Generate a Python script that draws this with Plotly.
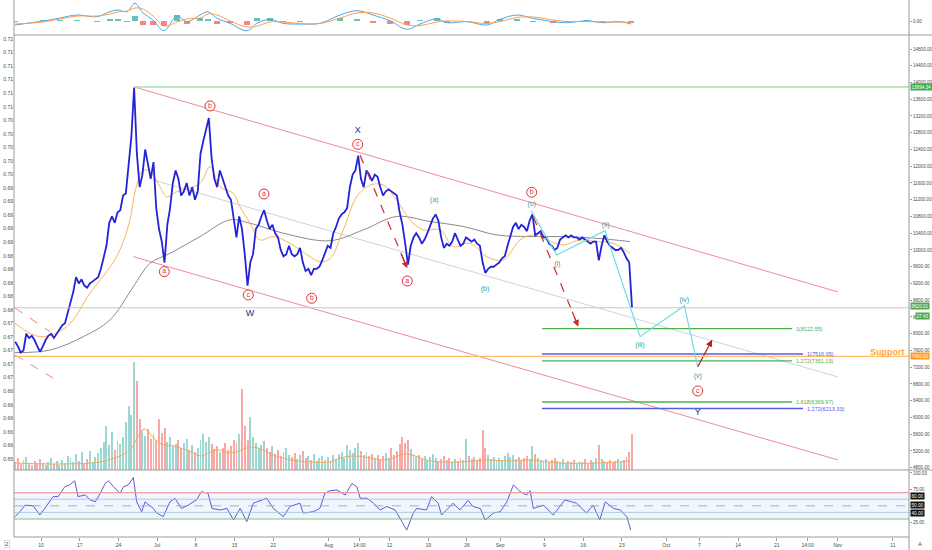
import numpy as np
import pandas as pd
import plotly.graph_objects as go

# ---------------------------------------------------------------------------
# BTCUSD Jun-Sep 2019, elliott-wave markup (W-X-Y), MACD on top, RSI below.
# Times are kept as day offsets from T0 where the data are sparse.
# ---------------------------------------------------------------------------

T0 = pd.Timestamp("2019-06-10")


def at(days):
    return T0 + pd.to_timedelta(np.asarray(days, dtype=float), unit="D")


X_START, X_END = -4.88, 156.9

# 12h closes and volumes from 2019-06-05 08:00
PRICE_START = "2019-06-05 08:00"
PRICE = [
    7810, 7700, 7550, 7600, 8000, 7900, 7950, 7850, 7700, 7570,
    7700, 7850, 7950, 8000, 7900, 8000, 8100, 8200, 8250, 8500,
    8700, 9000, 9350, 9200, 9300, 9150, 9100, 9200, 9250, 9300,
    9350, 9550, 9800, 10100, 10650, 10800, 10650, 10900, 10950, 11300,
    11350, 12100, 12700, 13880, 12300, 11500, 11800, 12400, 12000, 11700,
    12100, 11000, 10500, 10200, 9700, 10600, 11000, 11600, 11900, 11700,
    11300, 11400, 11600, 11300, 11500, 11200, 11400, 12300, 12600, 12900,
    13150, 12200, 11700, 11500, 11900, 11700, 11500, 11300, 11200, 10700,
    10300, 10800, 10500, 9900, 9150, 9700, 9900, 10500, 10600, 10800,
    10950, 10700, 10500, 10600, 10400, 10300, 10000, 9850, 9900, 10100,
    9900, 9850, 9900, 10050, 9700, 9500, 9550, 9400, 9550, 9550,
    9600, 9750, 9950, 10100, 10050, 10400, 10550, 10750, 10850, 10900,
    11000, 11500, 11800, 11900, 12250, 11700, 11500, 11900, 11800, 11650,
    11800, 11750, 11500, 11300, 11400, 11450, 11400, 11350, 11300, 10900,
    10600, 10150, 9650, 10100, 10300, 10400, 10300, 10150, 10250, 10400,
    10600, 10750, 10850, 10700, 10300, 10050, 10150, 10100, 10200, 10400,
    10250, 10100, 10150, 10300, 10250, 10200, 10250, 10150, 10100, 9700,
    9450, 9550, 9600, 9600, 9650, 9700, 9800, 9850, 10100, 10300,
    10550, 10650, 10500, 10600, 10550, 10450, 10700, 10850, 10350, 10400,
    10450, 10300, 10300, 10150, 10100, 10000, 10050, 10250, 10300, 10350,
    10300, 10350, 10300, 10300, 10250, 10300, 10250, 10200, 10150, 10200,
    10200, 9750, 10100, 10350, 10200, 10100, 10050, 10000, 10000, 10050,
    9950, 9800, 9700, 8620,
]
VOLUME = [
    8, 12, 6, 10, 13, 7, 5, 9, 6, 11,
    7, 5, 8, 12, 6, 9, 5, 10, 7, 14,
    12, 8, 16, 9, 18, 7, 11, 19, 8, 13,
    17, 22, 28, 44, 25, 38, 20, 29, 26, 33,
    48, 64, 55, 108, 89, 51, 40, 34, 41, 31,
    36, 30, 51, 37, 42, 28, 33, 24, 26, 30,
    22, 27, 31, 20, 25, 18, 22, 30, 36, 28,
    33, 26, 21, 24, 18, 22, 27, 20, 24, 30,
    28, 36, 81, 44, 30, 53, 33, 27, 22, 25,
    29, 22, 18, 24, 16, 20, 14, 18, 22, 15,
    13, 17, 11, 15, 19, 12, 14, 10, 16, 9,
    12, 14, 10, 13, 9, 15, 11, 16, 18, 12,
    25, 20, 17, 22, 27, 19, 15, 18, 14, 16,
    12, 15, 11, 14, 17, 12, 22, 15, 19, 26,
    33, 27, 30, 21, 16, 13, 15, 11, 14, 10,
    13, 16, 12, 9, 11, 14, 10, 12, 8, 11,
    9, 12, 10, 31, 14, 11, 13, 10, 12, 40,
    22, 15, 11, 13, 9, 12, 10, 14, 17, 13,
    15, 11, 13, 10, 12, 14, 11, 24, 16, 12,
    10, 9, 11, 8, 10, 12, 9, 8, 11, 7,
    9, 8, 10, 7, 9, 8, 11, 7, 10, 8,
    12, 25, 11, 9, 8, 10, 7, 9, 11, 8,
    10, 13, 18, 36,
]

MA_FAST_DAY = [-4.7, -0.2, 4.65, 8.86, 13.68, 16.09, 16.99, 18.49, 20.01, 21.51,
               22.72, 24.53, 28.74, 30.55, 32.36, 34.76, 35.97, 37.78, 39.59, 41.99,
               45.01, 48.63, 50.43, 52.24, 54.65, 57.07, 59.47, 61.88, 64.30, 66.70,
               69.11, 72.13, 74.53, 77.55, 80.57, 83.57, 86.59, 88.99, 91.41, 94.41,
               97.43, 100.45, 103.45, 106.47]
MA_FAST = [8250, 7930, 8170, 8970, 9840, 10720, 11390, 11910, 11830, 11510,
           11270, 11390, 11590, 11990, 11510, 11350, 11030, 10640, 10240, 10320,
           10160, 9840, 9720, 9790, 10480, 11270, 11550, 11550, 11190, 10720,
           10480, 10480, 10080, 10160, 9840, 9760, 10240, 10360, 10240, 10120,
           10240, 10200, 10160, 9920]
MA_SLOW_DAY = [-4.7, 1.63, 7.65, 12.47, 16.68, 19.70, 23.32, 28.74, 34.16, 37.78,
               43.80, 52.24, 58.26, 64.30, 70.32, 76.34, 82.38, 88.39, 94.41, 100.45,
               106.47]
MA_SLOW = [7550, 7610, 7930, 8330, 9120, 9680, 9920, 10320, 10720, 10640,
           10400, 10220, 10480, 10800, 10680, 10560, 10360, 10320, 10320, 10280,
           10200]
VOL_MA_DAY = [-4.88, 3.43, 10.67, 14.28, 16.09, 18.62, 19.88, 21.69, 24.04, 27.12,
              28.92, 31.81, 34.35, 37.96, 39.77, 42.48, 45.19, 48.63, 52.24, 54.05,
              56.76, 59.47, 62.18, 65.80, 67.61, 70.32, 75.74, 80.26, 84.78, 88.39,
              93.82, 101.05, 106.47]
VOL_MA = [7, 6, 8, 14, 20, 41, 35, 26, 24, 18,
          14, 20, 17, 23, 21, 14, 10, 8, 8, 12,
          14, 12, 10, 16, 14, 9, 8, 10, 9, 10,
          7, 7, 9]

MACD_DAY = [-4.70, 0.36, 3.43, 6.51, 10.12, 12.47, 13.92, 15.55, 16.99, 18.44,
            20.25, 22.23, 24.58, 26.39, 28.74, 30.19, 31.82, 34.16, 37.24, 39.05,
            41.40, 43.75, 46.82, 50.43, 54.05, 57.12, 60.01, 63.09, 66.16, 68.51,
            71.58, 73.39, 77.01, 80.62, 82.97, 86.05, 88.94, 92.55, 95.08, 98.70,
            101.59, 104.66, 106.65]
MACD = [-4, 0, 3, 6, 4.3, 9.3, 11, 9.3, 17.7, 8,
        1, -9.7, 5, -0.7, 6, 9.3, 2.7, -2.3, -9.7, -2.3,
        1.7, -2.3, -3, -2.3, 6, 10.3, 6, 0.3, -8.3, -3,
        2.3, -1.7, -0.7, -4, 1.7, 6, 2.7, -0.7, -1.7, 0.3,
        -1.7, -0.7, -3]
MACD_SIGNAL = [-3, -1, 2, 5, 5, 7, 9, 10, 13, 12,
               5, -5, -1, 2, 3, 7, 6, 0, -6, -5,
               -1, -1, -2.5, -2.5, 3, 8, 8, 3, -4, -4.5,
               -1, 0, -0.5, -2.5, -0.5, 3.5, 4, 1, -0.5, -0.5,
               -1, -1, -1.5]

RSI_DAY = [-4.7, -3.8, -2.9, -1.4, -0.2, 1.0, 2.2, 3.1, 4.3, 5.2,
           6.1, 6.7, 8.0, 8.9, 9.8, 10.7, 11.6, 12.2, 13.1, 14.3,
           14.9, 15.8, 16.7, 17.3, 18.2, 18.8, 20.3, 20.9, 22.1, 23.3,
           24.2, 25.4, 26.6, 28.1, 29.0, 30.2, 30.9, 32.4, 33.6, 34.8,
           36.0, 37.2, 38.4, 40.8, 42.0, 43.8, 45.0, 46.8, 47.4, 49.2,
           50.4, 51.3, 52.2, 53.5, 55.0, 56.2, 57.1, 57.7, 58.9, 60.1,
           61.3, 62.5, 64.0, 64.9, 66.1, 67.3, 67.9, 69.7, 70.6, 71.8,
           72.4, 74.5, 75.7, 77.2, 78.1, 79.4, 80.3, 81.8, 83.0, 84.2,
           85.4, 86.6, 87.8, 88.4, 89.0, 90.8, 92.6, 94.7, 96.8, 98.6,
           99.8, 101.0, 102.0, 103.5, 104.7, 105.9, 106.6]
RSI = [33.5, 41, 51, 50, 36, 51, 64, 64, 79, 82,
       88, 64, 66.5, 59, 56, 69, 84, 88, 79, 69,
       79, 82, 93, 56, 41, 56, 46, 39, 33.5, 56,
       61.5, 46, 51, 59, 71.5, 69, 46, 43.7, 46, 28.5,
       46, 26, 54, 61.5, 46, 33.5, 49, 54, 39, 41,
       46, 69, 73, 74, 66.5, 84, 79, 61.5, 61.5, 54,
       43.7, 49, 43.7, 31, 13, 39, 46, 43.7, 64, 54,
       36, 54, 43.7, 58, 49, 46, 28.5, 39, 41, 56,
       82, 71.5, 66.5, 73, 46, 51, 36, 59, 54, 39,
       51, 28.5, 56, 46, 43.7, 33.5, 13]

# chart drawings
HIGH = 13894.34
HIGH_DAY = 16.81
LAST = 8620.01
SUPPORT = 7460.00
CH_TOP_DAY, CH_TOP = [16.81, 144.07], [13894, 8997]
CH_BOT_DAY, CH_BOT = [16.68, 144.07], [9840, 4985]
CH_MID_DAY, CH_MID = [20.25, 144.07], [11672, 6968]
OLD_CH_DAY = [[-4.70, 1.63], [-4.70, 2.17]]
OLD_CH = [[8615, 8049], [7493, 6943]]
DASH_DAY = [[57.66, 66.21], [88.99, 97.13]]
DASH = [[12269, 9563], [10795, 8168]]
PATH_DAY = [88.58, 93.22, 101.95, 108.28, 116.29, 118.71]
PATH = [10939, 9881, 10461, 7930, 8670, 7213]
UP_DAY, UP = [118.71, 121.30], [7213, 7851]

FIB_START = 90.56
FIB_GREEN_END = 135.76
FIB_GREEN = [("1", 8122.55), ("1.272", 7351.19), ("1.618", 6369.97)]
FIB_BLUE_END = 137.74
FIB_BLUE = [("1", 7516.05), ("1.272", 6213.33)]

CIRCLED = ["b", "a", "a", "c", "b", "c", "a", "b", "c"]
CIRCLED_DAY = [30.55, 40.31, 22.29, 37.47, 48.93, 57.25, 66.21, 88.70, 118.71]
CIRCLED_Y = [13439, 11337, 9482, 8926, 8847, 12524, 9260, 11378, 6633]
MINOR = ["(a)", "(b)", "(c)", "(i)", "(ii)", "(iii)", "(iv)", "(v)"]
MINOR_DAY = [71.10, 80.26, 88.70, 93.33, 102.08, 108.28, 116.29, 118.71]
MINOR_Y = [11194, 9069, 11091, 9666, 10590, 7724, 8806, 6991]
MAJOR = ["W", "X", "Y"]
MAJOR_DAY = [37.78, 57.25, 118.71]
MAJOR_Y = [8488, 12842, 6115]

X_TICKS = ["2019-06-10", "2019-06-17", "2019-06-24", "2019-07-01", "2019-07-08",
           "2019-07-15", "2019-07-22", "2019-08-01", "2019-08-06 14:00", "2019-08-12",
           "2019-08-19", "2019-08-26", "2019-09-01", "2019-09-09", "2019-09-16",
           "2019-09-23", "2019-10-01", "2019-10-07", "2019-10-14", "2019-10-21",
           "2019-10-26 14:00", "2019-11-01", "2019-11-11"]
X_LABELS = ["10", "17", "24", "Jul", "8", "15", "22", "Aug", "14:00", "12",
            "19", "26", "Sep", "9", "16", "23", "Oct", "7", "14", "21",
            "14:00", "Nov", "11"]
LEFT_LABELS = ["0.72"] + ["0.71"] * 5 + ["0.70"] * 5 + ["0.69"] * 5 + ["0.68"] * 5 \
    + ["0.67"] * 5 + ["0.66"] * 5 + ["0.65"]

FONT = "Liberation Sans, Arial, sans-serif"
AX_FONT = dict(family=FONT, size=5, color="#4a4a4a")
R_FONT = dict(family=FONT, size=4.6, color="#4a4a4a")
RED = "#E0303A"
TEAL = "#27A89A"
NAVY = "#1F2A8A"
GREEN = "#4CAF50"
BLUE = "#5A5AE6"

# panel split (paper fractions)
RSI_TOP = 0.1248
MAIN_TOP = 0.9348

fig = go.Figure()

# ---- main panel --------------------------------------------------------
fig.add_trace(go.Scatter(x=at(CH_TOP_DAY), y=CH_TOP, mode="lines",
                         line=dict(color="#F08C94", width=1)))
fig.add_trace(go.Scatter(x=at(CH_BOT_DAY), y=CH_BOT, mode="lines",
                         line=dict(color="#F08C94", width=1)))
fig.add_trace(go.Scatter(x=at(CH_MID_DAY), y=CH_MID, mode="lines",
                         line=dict(color="#CDD3DC", width=1)))
for d, p in zip(OLD_CH_DAY, OLD_CH):
    fig.add_trace(go.Scatter(x=at(d), y=p, mode="lines",
                             line=dict(color="#F07C86", width=1, dash="dash")))

fig.add_trace(go.Scatter(x=at(MA_SLOW_DAY), y=MA_SLOW, mode="lines",
                         line=dict(color="#8a8a8a", width=1, shape="spline")))
fig.add_trace(go.Scatter(x=at(MA_FAST_DAY), y=MA_FAST, mode="lines",
                         line=dict(color="#F6B65E", width=1, shape="spline")))

t_price = pd.date_range(PRICE_START, periods=len(PRICE), freq="12h")
fig.add_trace(go.Scatter(x=t_price, y=PRICE, mode="lines",
                         line=dict(color="#2323D8", width=1.8)))

fig.add_trace(go.Scatter(x=[at(HIGH_DAY), at(X_END)], y=[HIGH, HIGH], mode="lines",
                         line=dict(color="#A8DDB0", width=1.5)))

# fib extensions
for name, lvl in FIB_GREEN:
    fig.add_trace(go.Scatter(x=at([FIB_START, FIB_GREEN_END]), y=[lvl, lvl], mode="lines",
                             line=dict(color=GREEN, width=1.4)))
for name, lvl in FIB_BLUE:
    fig.add_trace(go.Scatter(x=at([FIB_START, FIB_BLUE_END]), y=[lvl, lvl], mode="lines",
                             line=dict(color=BLUE, width=1.4)))

# projected path and arrows
fig.add_trace(go.Scatter(x=at(PATH_DAY), y=PATH, mode="lines",
                         line=dict(color="#6ADCE6", width=1.2)))
for d, p in zip(DASH_DAY, DASH):
    fig.add_trace(go.Scatter(x=at(d), y=p, mode="lines",
                             line=dict(color="#C9302C", width=1.2, dash="dash")))
fig.add_trace(go.Scatter(x=at(UP_DAY), y=UP, mode="lines",
                         line=dict(color="#B71C1C", width=1.2)))

# wave labels
fig.add_trace(go.Scatter(x=at(CIRCLED_DAY), y=CIRCLED_Y, mode="markers+text",
                         text=CIRCLED, textposition="middle center",
                         textfont=dict(family=FONT, size=7, color=RED),
                         marker=dict(symbol="circle", size=10, color="white",
                                     line=dict(color=RED, width=1))))
fig.add_trace(go.Scatter(x=at(MINOR_DAY), y=MINOR_Y, mode="text", text=MINOR,
                         textposition="middle center",
                         textfont=dict(family=FONT, size=7, color=TEAL)))
fig.add_trace(go.Scatter(x=at(MAJOR_DAY), y=MAJOR_Y, mode="text", text=MAJOR,
                         textposition="middle center",
                         textfont=dict(family=FONT, size=9, color=NAVY)))

# volume (overlay)
vol_col = ["rgba(38,166,154,0.45)" if i == 0 or PRICE[i] >= PRICE[i - 1]
           else "rgba(239,83,80,0.5)" for i in range(len(PRICE))]
fig.add_trace(go.Bar(x=t_price, y=VOLUME, marker=dict(color=vol_col, line_width=0),
                     width=12 * 3600 * 1000 * 0.7, yaxis="y2"))
fig.add_trace(go.Scatter(x=at(VOL_MA_DAY), y=VOL_MA, mode="lines", yaxis="y2",
                         line=dict(color="#F5A861", width=1, shape="spline")))

# left scale
fig.add_trace(go.Scatter(x=[at(X_START)], y=[0], mode="markers", yaxis="y5",
                         marker=dict(opacity=0)))

# ---- MACD panel --------------------------------------------------------
hist = np.array(MACD) - np.array(MACD_SIGNAL)
fig.add_trace(go.Bar(x=at(MACD_DAY), y=hist, yaxis="y4",
                     marker=dict(color=["rgba(38,166,154,0.7)" if h >= 0
                                        else "rgba(239,83,80,0.7)" for h in hist],
                                 line_width=0),
                     width=1.2 * 86400 * 1000))
fig.add_trace(go.Scatter(x=at(MACD_DAY), y=MACD, mode="lines", yaxis="y4",
                         line=dict(color="#4AA8F0", width=1, shape="spline")))
fig.add_trace(go.Scatter(x=at(MACD_DAY), y=MACD_SIGNAL, mode="lines", yaxis="y4",
                         line=dict(color="#FF9E4A", width=1, shape="spline")))

# ---- RSI panel ---------------------------------------------------------
fig.add_trace(go.Scatter(x=at(RSI_DAY), y=RSI, mode="lines", yaxis="y3",
                         line=dict(color="#5B5BDB", width=1)))

shapes = [
    dict(type="rect", xref="paper", yref="y3", x0=0, x1=1, y0=30, y1=70,
         fillcolor="rgba(33,150,243,0.08)", line_width=0, layer="below"),
    dict(type="line", xref="paper", yref="y3", x0=0, x1=1, y0=70, y1=70,
         line=dict(color="#F0A0A0", width=1.2)),
    dict(type="line", xref="paper", yref="y3", x0=0, x1=1, y0=30, y1=30,
         line=dict(color="#7CC47F", width=1.2)),
    dict(type="line", xref="paper", yref="y3", x0=0, x1=1, y0=60, y1=60,
         line=dict(color="#A9BCD6", width=0.8)),
    dict(type="line", xref="paper", yref="y3", x0=0, x1=1, y0=40, y1=40,
         line=dict(color="#A9BCD6", width=0.8)),
    dict(type="line", xref="paper", yref="y3", x0=0, x1=1, y0=50, y1=50,
         line=dict(color="#A0A0A0", width=0.8, dash="dash")),
    # full-width price lines
    dict(type="line", xref="paper", yref="y", x0=0, x1=1, y0=LAST, y1=LAST,
         line=dict(color="#C8C8C8", width=1)),
    dict(type="line", xref="paper", yref="y", x0=0, x1=1, y0=SUPPORT, y1=SUPPORT,
         line=dict(color="#FFBE6A", width=1.4)),
    # pane frame
    dict(type="line", xref="paper", yref="paper", x0=0, x1=1.026, y0=MAIN_TOP, y1=MAIN_TOP,
         line=dict(color="#9a9a9a", width=1)),
    dict(type="line", xref="paper", yref="paper", x0=0, x1=1.026, y0=RSI_TOP, y1=RSI_TOP,
         line=dict(color="#9a9a9a", width=1)),
    dict(type="line", xref="paper", yref="paper", x0=0, x1=1, y0=0, y1=0,
         line=dict(color="#9a9a9a", width=1)),
    dict(type="line", xref="paper", yref="paper", x0=0, x1=0, y0=0, y1=1,
         line=dict(color="#9a9a9a", width=1)),
    dict(type="line", xref="paper", yref="paper", x0=1, x1=1, y0=-0.03, y1=1,
         line=dict(color="#9a9a9a", width=1)),
]

annotations = []
# arrow heads at the ends of the dashed / solid arrows
for d, p, col in [(DASH_DAY[0], DASH[0], "#C9302C"), (DASH_DAY[1], DASH[1], "#C9302C"),
                  (UP_DAY, UP, "#B71C1C")]:
    tip_d, tip_p = d[1], p[1]
    tail_d = d[1] - 0.15 * (d[1] - d[0])
    tail_p = p[1] - 0.15 * (p[1] - p[0])
    annotations.append(dict(x=at(tip_d), y=tip_p, ax=at(tail_d), ay=tail_p,
                            xref="x", yref="y", axref="x", ayref="y", text="",
                            showarrow=True, arrowhead=2, arrowsize=1.1,
                            arrowwidth=1.2, arrowcolor=col))

for name, lvl in FIB_GREEN:
    annotations.append(dict(x=at(FIB_GREEN_END), y=lvl, xref="x", yref="y",
                            text=f"{name}({lvl:.2f})", showarrow=False, xanchor="left",
                            xshift=2, font=dict(family=FONT, size=5.5, color=GREEN)))
for name, lvl in FIB_BLUE:
    annotations.append(dict(x=at(FIB_BLUE_END), y=lvl, xref="x", yref="y",
                            text=f"{name}({lvl:.2f})", showarrow=False, xanchor="left",
                            xshift=2, font=dict(family=FONT, size=5.5, color=BLUE)))


def axis_box(y, text, bg, yref="y", yshift=0, xshift=1, color="white"):
    return dict(x=1, y=y, xref="paper", yref=yref, text=text, showarrow=False,
                xanchor="left", xshift=xshift, yshift=yshift, bgcolor=bg, borderpad=0.5,
                font=dict(family=FONT, size=4.6, color=color))


annotations += [
    axis_box(HIGH, f"{HIGH:.2f}", "#3FAE49"),
    axis_box(LAST, f"{LAST:.2f}", "#4FA84F", yshift=2),
    axis_box(LAST, "27:43", "#4FA84F", yshift=-8, xshift=6),
    axis_box(SUPPORT, f"{SUPPORT:.2f}", "#FF9A1F"),
    axis_box(60, "60.00", "#111111", yref="y3", yshift=3),
    axis_box(50, "50.00", "#111111", yref="y3", yshift=1),
    axis_box(40, "40.00", "#111111", yref="y3", yshift=-1),
    dict(x=1, y=SUPPORT, xref="paper", yref="y", text="<b>Support</b>", showarrow=False,
         xanchor="right", xshift=-2, yshift=4, font=dict(family=FONT, size=9, color="#FFA733")),
    dict(x=-0.008, y=-0.013, xref="paper", yref="paper", text="2", showarrow=False,
         xanchor="center", yanchor="middle", font=dict(family=FONT, size=6, color="#555"),
         bordercolor="#bbbbbb", borderwidth=0.5, borderpad=0.5),
    dict(x=1.012, y=-0.013, xref="paper", yref="paper", text="A", showarrow=False,
         xanchor="center", yanchor="middle", font=dict(family=FONT, size=6, color="#555")),
]

fig.update_layout(
    template="none",
    width=932, height=550,
    margin=dict(l=14, r=23, t=0, b=13, autoexpand=False),
    paper_bgcolor="white", plot_bgcolor="white",
    showlegend=False, hovermode=False, bargap=0,
    font=dict(family=FONT),
    xaxis=dict(type="date", range=[at(X_START), at(X_END)], anchor="y3",
               tickvals=X_TICKS, ticktext=X_LABELS, tickfont=AX_FONT,
               ticks="outside", ticklen=3, tickcolor="#9a9a9a", automargin=False,
               showgrid=False, zeroline=False, showline=False),
    yaxis=dict(domain=[RSI_TOP, MAIN_TOP], range=[4746, 15134], side="right",
               tick0=0, dtick=400, tickformat=".2f", tickfont=R_FONT,
               ticks="outside", ticklen=2, tickcolor="#9a9a9a", automargin=False,
               showgrid=False, zeroline=False, showline=False),
    yaxis2=dict(overlaying="y", range=[0, 435], visible=False, automargin=False),
    yaxis5=dict(overlaying="y", side="left", range=[-0.81, 31.3],
                tickvals=list(range(len(LEFT_LABELS) - 1, -1, -1)), ticktext=LEFT_LABELS,
                tickfont=AX_FONT, ticks="", automargin=False,
                showgrid=False, zeroline=False, showline=False),
    yaxis3=dict(domain=[0, RSI_TOP], range=[2.6, 104.5], side="right", anchor="x",
                tickvals=[100, 75, 25], ticktext=["100.00", "75.00", "25.00"],
                tickfont=R_FONT, ticks="outside", ticklen=2, tickcolor="#9a9a9a",
                automargin=False, showgrid=False, zeroline=False, showline=False),
    yaxis4=dict(domain=[MAIN_TOP, 1], range=[-14, 21], side="right", anchor="x",
                tickvals=[0], ticktext=["0.00"], tickfont=R_FONT,
                ticks="outside", ticklen=2, tickcolor="#9a9a9a", automargin=False,
                showgrid=False, zeroline=False, showline=False),
    shapes=shapes,
    annotations=annotations,
)

# the page body has a default 8px margin; drop it so the figure fills the window
fig.write_html("out.html", config={"displayModeBar": False},
               post_script="document.body.style.margin='0px';"
                           "document.body.style.overflow='hidden';")
